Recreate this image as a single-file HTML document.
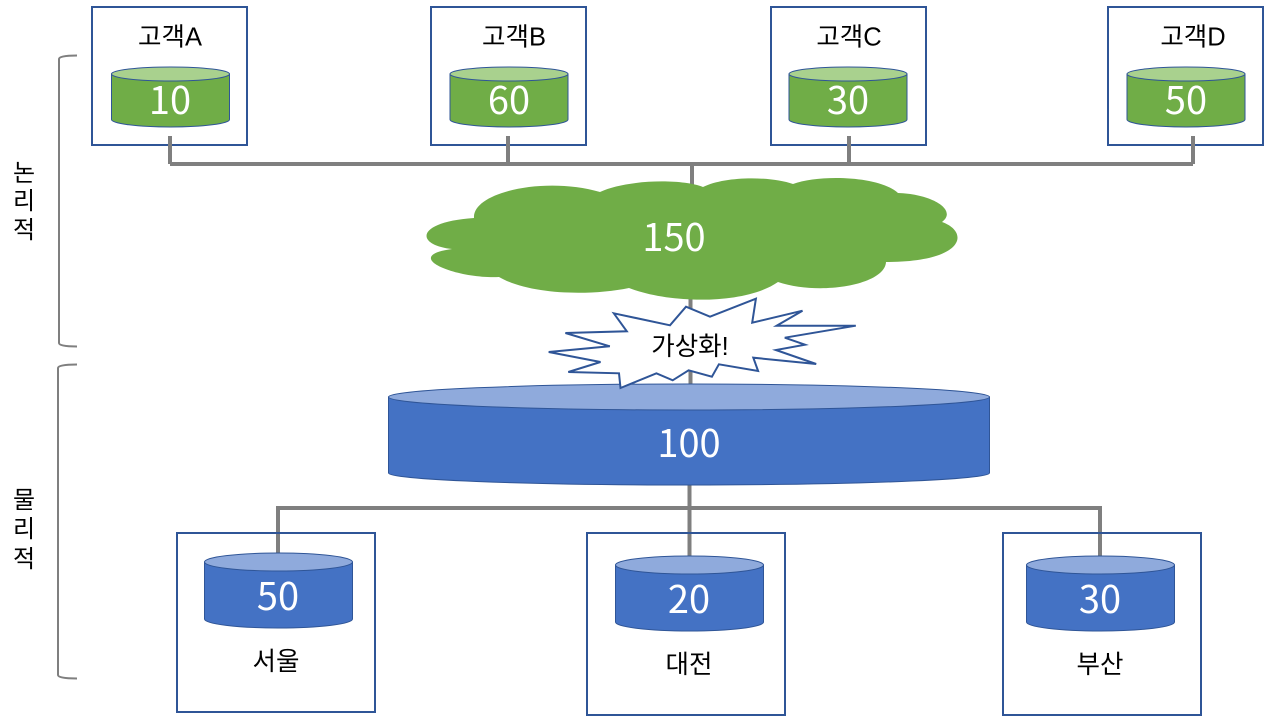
<!DOCTYPE html>
<html lang="ko"><head><meta charset="utf-8"><title>가상화</title>
<style>html,body{margin:0;padding:0;background:#fff;width:1267px;height:720px;overflow:hidden}
svg{display:block}
text{font-family:"Liberation Sans","Noto Sans CJK KR",sans-serif}
.n{font-family:"Noto Sans CJK KR","Liberation Sans",sans-serif;font-size:38px;fill:#fff;text-anchor:middle}
.l{font-size:25.5px;fill:#000;text-anchor:middle}
.s{font-size:24px;fill:#000;text-anchor:middle}
.b{fill:none;stroke:#2f5597;stroke-width:2}
.c{fill:none;stroke:#7f7f7f;stroke-width:4}
.br{fill:none;stroke:#7f7f7f;stroke-width:2}
.g{fill:#70ad47;stroke:#2f5597;stroke-width:1}.gt{fill:#a9d18e;stroke:#2f5597;stroke-width:1}
.u{fill:#4472c4;stroke:#2f5597;stroke-width:1}.ut{fill:#8faadc;stroke:#2f5597;stroke-width:1}
</style></head><body>
<svg width="1267" height="720" viewBox="0 0 1267 720" xmlns="http://www.w3.org/2000/svg">
<!-- brackets -->
<path class="br" d="M77 55.500Q59 55.500 59 59V343Q59 346.500 77 346.500"/>
<path class="br" d="M77 364.500Q58 364.500 58 368V675Q58 678.500 77 678.500"/>
<text x="24" y="181" class="s">논</text>
<text x="24" y="209" class="s">리</text>
<text x="24" y="238" class="s">적</text>
<text x="24" y="508" class="s">물</text>
<text x="24" y="537" class="s">리</text>
<text x="24" y="567" class="s">적</text>
<!-- top boxes -->
<rect class="b" x="92" y="7" width="155" height="138"/>
<rect class="b" x="431" y="7" width="155" height="138"/>
<rect class="b" x="771" y="7" width="155" height="138"/>
<rect class="b" x="1108" y="7" width="155" height="138"/>
<!-- connectors -->
<path class="c" d="M170 136V164M508 136V164M849 136V164M1193 136V164M170 164H1193M692 164V190M690.500 295V385"/>
<path class="c" d="M689.500 484V556M278 553V508H1100V556"/>
<!-- bottom boxes -->
<rect class="b" x="177" y="533" width="198" height="179"/>
<rect class="b" x="587" y="533" width="198" height="182"/>
<rect class="b" x="1003" y="533" width="198" height="182"/>
<!-- top cylinders -->
<path class="g" d="M111.500 74V119.500A59 7.500 0 0 0 229.500 119.500V74Z"/><ellipse class="gt" cx="170.500" cy="74" rx="59" ry="7"/>
<path class="g" d="M450 74V119.500A59 7.500 0 0 0 568 119.500V74Z"/><ellipse class="gt" cx="509" cy="74" rx="59" ry="7"/>
<path class="g" d="M789 74V119.500A59 7.500 0 0 0 907 119.500V74Z"/><ellipse class="gt" cx="848" cy="74" rx="59" ry="7"/>
<path class="g" d="M1127 74V119.500A59 7.500 0 0 0 1245 119.500V74Z"/><ellipse class="gt" cx="1186" cy="74" rx="59" ry="7"/>
<text class="l" x="170" y="45.500">고객A</text>
<text class="l" x="514" y="45.500">고객B</text>
<text class="l" x="849" y="45.500">고객C</text>
<text class="l" x="1193" y="45.500">고객D</text>
<text class="n" x="170" y="114">10</text>
<text class="n" x="509" y="114">60</text>
<text class="n" x="848" y="114">30</text>
<text class="n" x="1186" y="114">50</text>
<!-- cloud -->
<path fill="#70ad47" d="M474 218C472 192 545 176 600 192C625 180 680 178 703 187C725 176 770 176 793 184C820 174 880 176 898 193C932 194 958 210 942 222C970 232 965 262 886 262C885 285 820 296 778 282C745 305 670 304 629 288C590 296 530 295 499 277C455 279 400 256 452 249C415 245 415 222 474 218Z"/>
<text class="n" x="674" y="251">150</text>
<!-- big cylinder -->
<path class="u" d="M388.500 397V473A300.500 12 0 0 0 989.500 473V397Z"/>
<ellipse class="ut" cx="689" cy="397" rx="300.500" ry="13"/>
<text class="n" x="689" y="457">100</text>
<!-- star -->
<polygon fill="#fff" stroke="#2f5597" stroke-width="2" points="613.800,313.300 670,325.300 686,306.700 710,316.700 755.900,298.700 752.200,322.700 802.500,310.700 776.600,325.700 855.800,325.700 784.800,337.700 805,344.700 775.900,350 816.200,364 753.300,357.700 758.100,371 718.900,364.300 711.900,376.700 688.600,370.300 672.700,380.300 656.400,373.300 620.500,388 619,373.300 568.300,372 600.500,362 548.700,352 609.800,346.300 565.400,333 626.800,331.300"/>
<text class="l" x="690" y="355">가상화!</text>
<!-- bottom cylinders -->
<path class="u" d="M204.500 562V619A74 9 0 0 0 352.500 619V562Z"/><ellipse class="ut" cx="278.500" cy="562" rx="74" ry="9"/>
<path class="u" d="M615.500 565V622A74 9 0 0 0 763.500 622V565Z"/><ellipse class="ut" cx="689.500" cy="565" rx="74" ry="9"/>
<path class="u" d="M1026.500 565V622A74 9 0 0 0 1174.500 622V565Z"/><ellipse class="ut" cx="1100.500" cy="565" rx="74" ry="9"/>
<text class="n" x="278" y="610">50</text>
<text class="n" x="689" y="613">20</text>
<text class="n" x="1100" y="613">30</text>
<text class="l" x="276" y="670">서울</text>
<text class="l" x="689" y="673">대전</text>
<text class="l" x="1100" y="673">부산</text>
</svg>
</body></html>
